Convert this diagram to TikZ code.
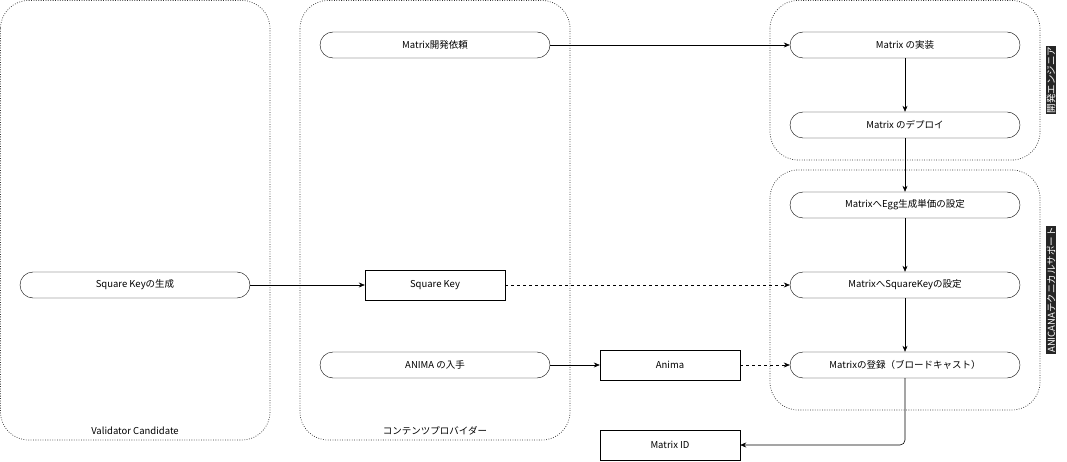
\documentclass[tikz,border=0pt]{standalone}
\usepackage{fontspec}
\setmainfont{Noto Sans CJK JP}
\usetikzlibrary{arrows.meta}
\begin{document}
\begin{tikzpicture}[x=1pt,y=-1pt,
  every node/.style={font=\fontsize{9.5}{11}\selectfont},
  lane/.style={draw=black!80,line width=0.7pt,dash pattern=on 0.8pt off 1.6pt,rounded corners=28pt},
  pill/.style={draw,rounded corners=13pt,minimum width=230pt,minimum height=26pt,inner sep=0pt},
  box/.style={draw,minimum width=140pt,minimum height=30pt,inner sep=0pt},
  arr/.style={-{Stealth[length=6pt,width=5pt]},line width=0.6pt},
  darr/.style={arr,dashed},
  vlab/.style={fill=black!85,text=white,rotate=90,inner sep=1pt}]
\useasboundingbox (0,0) rectangle (1067,462);
\draw[lane] (0.5,0.5) rectangle (270,440);
\draw[lane] (300,0.5) rectangle (570,440);
\draw[lane] (770,0.5) rectangle (1040,160);
\draw[lane] (770,170) rectangle (1040,410);
\node (lv) at (135,431) {Validator Candidate};
\node (lc) at (435,431) {コンテンツプロバイダー};
\node[vlab] (le) at (1051,80) {開発エンジニア};
\node[vlab] (la) at (1051,290) {ANICANAテクニカルサポート};
\node[pill] (req) at (435,45) {Matrix開発依頼};
\node[pill] (impl) at (905,45) {Matrix の実装};
\node[pill] (dep) at (905,125) {Matrix のデプロイ};
\node[pill] (egg) at (905,205) {MatrixへEgg生成単価の設定};
\node[pill] (skset) at (905,285) {MatrixへSquareKeyの設定};
\node[pill] (reg) at (905,365) {Matrixの登録（ブロードキャスト）};
\node[pill] (skgen) at (135,285) {Square Keyの生成};
\node[pill] (anget) at (435,365) {ANIMA の入手};
\node[box] (sk) at (435,285) {Square Key};
\node[box] (anima) at (670,365) {Anima};
\node[box] (mid) at (670,445) {Matrix ID};
\draw[arr] (req) -- (impl);
\draw[arr] (impl) -- (dep);
\draw[arr] (dep) -- (egg);
\draw[arr] (egg) -- (skset);
\draw[arr] (skset) -- (reg);
\draw[arr] (skgen) -- (sk);
\draw[darr] (sk) -- (skset);
\draw[arr] (anget) -- (anima);
\draw[darr] (anima) -- (reg);
\draw[arr,rounded corners=5pt] (reg.south) -- (905,445) -- (mid.east);
\end{tikzpicture}
\end{document}
